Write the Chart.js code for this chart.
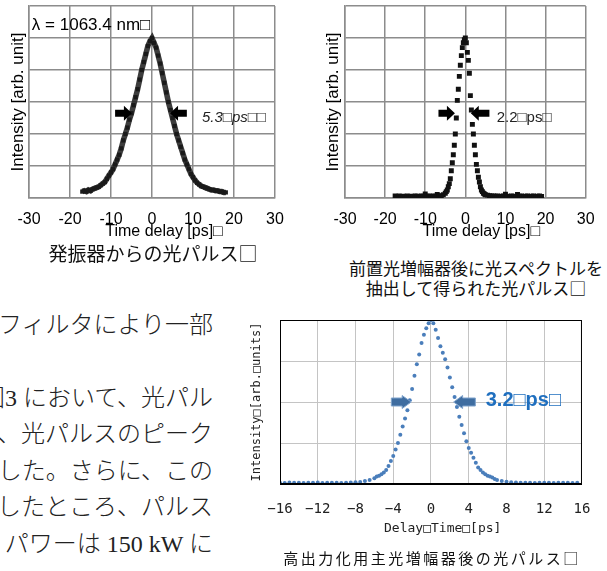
<!DOCTYPE html>
<html lang="ja">
<head>
<meta charset="utf-8">
<script src="https://cdn.jsdelivr.net/npm/chart.js@4.4.0/dist/chart.umd.min.js"></script>
<style>
  html, body { margin: 0; padding: 0; background: #fff; }
  #page { position: relative; width: 607px; height: 571px; overflow: hidden; background: #fff; }
  canvas { position: absolute; }
  .caption { position: absolute; text-align: center; font-family: 'Noto Sans CJK JP', sans-serif; color: #111; white-space: nowrap; }
  #bodyText { position: absolute; left: 0; top: 300px; width: 213px; height: 271px; overflow: hidden;
              font-family: 'Liberation Serif', 'Noto Sans CJK JP', serif; font-size: 24px; font-weight: 300; color: #222; }
  #bodyText div { position: absolute; right: 0; white-space: nowrap; line-height: 36px; }
</style>
</head>
<body>
<div id="page">
  <canvas id="graficoOscilador" width="300" height="245" style="left:0;top:0"></canvas>
  <canvas id="graficoPreAmp" width="307" height="245" style="left:300px;top:0"></canvas>
  <canvas id="graficoPrincipal" width="367" height="250" style="left:240px;top:300px"></canvas>

  <div class="caption" style="left:0;top:241px;width:306px;font-size:19px;line-height:24px">発振器からの光パルス□</div>
  <div class="caption" style="left:345px;top:258px;width:262px;font-size:17px;line-height:20px">前置光増幅器後に光スペクトルを<br>抽出して得られた光パルス□</div>
  <div class="caption" style="left:282px;top:548px;width:300px;font-size:15px;line-height:20px;letter-spacing:2.5px">高出力化用主光増幅器後の光パルス□</div>

  <div id="bodyText">
    <div style="top:7px">フィルタにより一部</div>
    <div style="top:80px">図3 において、光パル</div>
    <div style="top:116px">ス、光パルスのピーク</div>
    <div style="top:153px">増大した。さらに、この</div>
    <div style="top:189px">幅したところ、パルス</div>
    <div style="top:226px">パワーは 150 kW に</div>
  </div>
</div>

<script>
// Pulso do oscilador (time delay in ps, intensity in arb. unit)
const oscTime = [-17, -16.5, -16, -15.5, -15, -14.5, -14, -13.5, -13, -12.5, -12, -11.5, -11, -10.5, -10,
  -9.5, -9, -8.5, -8, -7.5, -7, -6.5, -6, -5.5, -5, -4.5, -4, -3.5, -3, -2.5, -2, -1.5, -1, -0.5, 0,
  0.5, 1, 1.5, 2, 2.5, 3, 3.5, 4, 4.5, 5, 5.5, 6, 6.5, 7, 7.5, 8, 8.5, 9, 9.5, 10, 10.5, 11, 11.5, 12,
  12.5, 13, 13.5, 14, 14.5, 15, 15.5, 16, 16.5, 17, 17.5, 18];
const oscIntensity = [0.04, 0.045, 0.04, 0.05, 0.045, 0.055, 0.06, 0.065, 0.07, 0.08,
  0.09, 0.10, 0.12, 0.14, 0.16, 0.18, 0.21, 0.24, 0.27, 0.31,
  0.36, 0.40, 0.44, 0.49, 0.53, 0.58, 0.63, 0.68, 0.74, 0.80,
  0.85, 0.90, 0.95, 0.98, 1.0, 0.97, 0.94, 0.89, 0.84, 0.78,
  0.72, 0.66, 0.60, 0.55, 0.50, 0.45, 0.40, 0.36, 0.32, 0.28,
  0.24, 0.21, 0.18, 0.15, 0.13, 0.11, 0.095, 0.085, 0.075, 0.07,
  0.065, 0.06, 0.055, 0.05, 0.05, 0.045, 0.045, 0.04, 0.04, 0.035, 0.035];

// Pulso depois do pré-amplificador + filtro espectral
const preTime = [-17.5, -17, -16.5, -16, -15.5, -15, -14.5, -14, -13.5, -13, -12.5, -12, -11.5, -11, -10.5,
  -10, -9.5, -9, -8.5, -8, -7.5, -7, -6.5, -6, -5.5,
  -5, -4.75, -4.5, -4.25, -4, -3.75, -3.5, -3.25, -3, -2.75, -2.5, -2.25, -2, -1.75, -1.5, -1.25, -1,
  -0.75, -0.5, -0.25, 0, 0.25, 0.5, 0.75, 1, 1.25, 1.5, 1.75, 2, 2.25, 2.5, 2.75, 3, 3.25, 3.5, 3.75,
  4, 4.25, 4.5, 4.75, 5,
  5.5, 6, 6.5, 7, 7.5, 8, 8.5, 9, 9.5, 10, 10.5, 11, 11.5, 12, 12.5, 13, 13.5, 14, 14.5, 15, 15.5, 16,
  16.5, 17, 17.5, 18, 18.5, 19];
const preIntensity = [0.012, 0.01, 0.012, 0.01, 0.011, 0.01, 0.012, 0.01, 0.011, 0.01, 0.012, 0.011, 0.01, 0.012, 0.011,
  0.025, 0.011, 0.012, 0.01, 0.012, 0.011, 0.022, 0.013, 0.015, 0.02,
  0.03, 0.04, 0.05, 0.07, 0.09, 0.12, 0.17, 0.22, 0.27, 0.33, 0.40, 0.50, 0.61, 0.68, 0.76, 0.83, 0.89,
  0.94, 0.97, 0.99, 1.0, 0.97, 0.91, 0.86, 0.78, 0.64, 0.55, 0.46, 0.40, 0.33, 0.27, 0.21, 0.17, 0.13, 0.10, 0.07,
  0.05, 0.04, 0.03, 0.025, 0.02,
  0.018, 0.015, 0.013, 0.012, 0.011, 0.012, 0.01, 0.011, 0.012, 0.024, 0.011, 0.01, 0.012, 0.011, 0.01, 0.022,
  0.011, 0.012, 0.01, 0.011, 0.012, 0.01, 0.011, 0.012, 0.01, 0.011, 0.012, 0.01];

// Pulso depois do amplificador principal
const mainTime = [-16, -15.5, -15, -14.5, -14, -13.5, -13, -12.5, -12, -11.5, -11, -10.5, -10, -9.5, -9,
  -8.5, -8, -7.5, -7, -6.5,
  -6, -5.75, -5.5, -5.25, -5, -4.75, -4.5, -4.25, -4, -3.75, -3.5, -3.25, -3, -2.75, -2.5, -2.25, -2,
  -1.75, -1.5, -1.25, -1, -0.75, -0.5, -0.25, 0, 0.25, 0.5, 0.75, 1, 1.25, 1.5, 1.75, 2, 2.25, 2.5, 2.75,
  3, 3.25, 3.5, 3.75, 4, 4.25, 4.5, 4.75, 5, 5.25, 5.5, 5.75, 6, 6.25, 6.5, 6.75, 7,
  7.5, 8, 8.5, 9, 9.5, 10, 10.5, 11, 11.5, 12, 12.5, 13, 13.5, 14, 14.5, 15, 15.5];
const mainIntensity = [0.008, 0.006, 0.009, 0.007, 0.008, 0.006, 0.008, 0.007, 0.009, 0.006, 0.008, 0.007, 0.008,
  0.006, 0.008, 0.009, 0.01, 0.012, 0.018, 0.025,
  0.035, 0.045, 0.05, 0.06, 0.07, 0.085, 0.11, 0.14, 0.17, 0.21, 0.25, 0.30, 0.35, 0.40, 0.45, 0.51, 0.58,
  0.66, 0.73, 0.79, 0.86, 0.91, 0.95, 0.98, 1.0, 0.98, 0.94, 0.89, 0.84, 0.80, 0.76, 0.71, 0.65, 0.59, 0.53, 0.47,
  0.41, 0.36, 0.31, 0.26, 0.22, 0.19, 0.16, 0.13, 0.10, 0.085, 0.07, 0.06, 0.05, 0.045, 0.04, 0.03, 0.025,
  0.018, 0.013, 0.01, 0.009, 0.008, 0.007, 0.008, 0.006, 0.008, 0.007, 0.008, 0.006, 0.008, 0.007, 0.008, 0.006, 0.007];

const mainTickLabels = ['−16', '−12', '−8', '−4', '0', '4', '8', '12', '16'];

/**
 * @description Desenha uma seta horizontal em bloco (haste + cabeça).
 */
function drawBlockArrow(ctx, xTail, xTip, yc, style) {
  const dir = Math.sign(xTip - xTail);
  const base = xTip - dir * style.head;
  ctx.beginPath();
  ctx.moveTo(xTail, yc - style.shaft / 2);
  ctx.lineTo(base, yc - style.shaft / 2);
  ctx.lineTo(base, yc - style.height / 2);
  ctx.lineTo(xTip, yc);
  ctx.lineTo(base, yc + style.height / 2);
  ctx.lineTo(base, yc + style.shaft / 2);
  ctx.lineTo(xTail, yc + style.shaft / 2);
  ctx.closePath();
  ctx.fillStyle = style.color;
  ctx.fill();
  if (style.edge) {
    ctx.strokeStyle = style.edge;
    ctx.lineWidth = 1;
    ctx.stroke();
  }
}

/**
 * @description Plugin com as anotações (setas de largura do pulso e textos) em coordenadas de dados.
 */
function annotationPlugin(cfg) {
  return {
    id: 'anotacoes',
    afterDatasetsDraw(chart) {
      const { ctx, chartArea, scales: { x, y } } = chart;
      ctx.save();
      if (cfg.frame) {
        ctx.strokeStyle = cfg.frame;
        ctx.lineWidth = 1;
        ctx.strokeRect(chartArea.left + 0.5, chartArea.top + 0.5, chartArea.width - 1, chartArea.height - 1);
      }
      (cfg.arrows || []).forEach(a => {
        drawBlockArrow(ctx, x.getPixelForValue(a.from), x.getPixelForValue(a.to), y.getPixelForValue(a.y), cfg.arrowStyle);
      });
      (cfg.labels || []).forEach(l => {
        ctx.font = l.font;
        ctx.fillStyle = l.color;
        ctx.textAlign = 'left';
        ctx.textBaseline = 'middle';
        ctx.fillText(l.text, x.getPixelForValue(l.x), y.getPixelForValue(l.y));
      });
      ctx.restore();
    }
  };
}

function toPoints(times, values) {
  return times.map((t, i) => ({ x: t, y: values[i] }));
}

const grayGrid = { color: '#8c8c8c', lineWidth: 1.5, drawTicks: false };
const sansFont = "'Liberation Sans', Arial, sans-serif";

/**
 * @description Gráfico 1: pulso do oscilador.
 */
function renderOscillator() {
  const ctx = document.getElementById('graficoOscilador').getContext('2d');
  new Chart(ctx, {
    type: 'line',
    data: {
      datasets: [{
        data: toPoints(oscTime, oscIntensity),
        borderColor: 'rgba(40, 40, 40, 0.9)',
        borderWidth: 5.5,
        pointStyle: 'rect',
        pointRadius: 3,
        pointBackgroundColor: '#1a1a1a',
        pointBorderWidth: 0,
        tension: 0
      }]
    },
    options: {
      responsive: false,
      animation: false,
      devicePixelRatio: 1,
      layout: { padding: { top: 6, right: 25, left: 0, bottom: 0 } },
      scales: {
        x: {
          type: 'linear', min: -30, max: 30,
          ticks: { stepSize: 10, padding: 12.4, color: '#000', font: { family: sansFont, size: 16 } },
          grid: grayGrid,
          border: { color: '#8c8c8c', width: 1.5 },
          // espaços à esquerda deslocam o título como no original
          title: { display: true, text: '\u2003\u2002Time delay [ps]□', color: '#000', font: { family: sansFont, size: 16 }, padding: { top: 0, bottom: 3.4 } },
          afterFit: scale => { scale.height = 47; }
        },
        y: {
          min: 0, max: 1.2,
          ticks: { stepSize: 0.2, display: false },
          grid: grayGrid,
          border: { color: '#8c8c8c', width: 1.5 },
          title: { display: true, text: 'Intensity [arb. unit]', color: '#000', font: { family: sansFont, size: 17 }, padding: { top: 7.8, bottom: 0 } },
          afterFit: scale => { scale.width = 29; }
        }
      },
      plugins: { legend: { display: false }, tooltip: { enabled: false } }
    },
    plugins: [annotationPlugin({
      arrowStyle: { head: 8, height: 15, shaft: 7, color: '#000' },
      arrows: [{ from: -9.0, to: -4.9, y: 0.53 }, { from: 8.5, to: 4.4, y: 0.53 }],
      labels: [
        { text: '5.3□ps□□', x: 12.2, y: 0.5, font: `italic 15px ${sansFont}`, color: '#222' },
        { text: 'λ = 1063.4 nm□', x: -29.3, y: 1.08, font: `17px ${sansFont}`, color: '#000' }
      ]
    })]
  });
}

/**
 * @description Gráfico 2: pulso depois do pré-amplificador com filtro espectral.
 */
function renderPreAmp() {
  const ctx = document.getElementById('graficoPreAmp').getContext('2d');
  new Chart(ctx, {
    type: 'scatter',
    data: {
      datasets: [{
        data: toPoints(preTime, preIntensity),
        pointStyle: 'rect',
        pointRadius: 3.5,
        pointBackgroundColor: '#111',
        pointBorderWidth: 0
      }]
    },
    options: {
      responsive: false,
      animation: false,
      devicePixelRatio: 1,
      layout: { padding: { top: 6, right: 17, left: 0, bottom: 0 } },
      scales: {
        x: {
          type: 'linear', min: -30, max: 30,
          ticks: { stepSize: 10, padding: 12.4, color: '#000', font: { family: sansFont, size: 16 } },
          grid: grayGrid,
          border: { color: '#8c8c8c', width: 1.5 },
          title: { display: true, text: '\u2003\u2003Time delay [ps]□', color: '#000', font: { family: sansFont, size: 16 }, padding: { top: 0, bottom: 3.4 } },
          afterFit: scale => { scale.height = 47; }
        },
        y: {
          min: 0, max: 1.2,
          ticks: { stepSize: 0.2, display: false },
          grid: grayGrid,
          border: { color: '#8c8c8c', width: 1.5 },
          title: { display: true, text: 'Intensity [arb. unit]', color: '#000', font: { family: sansFont, size: 17 }, padding: { top: 22.8, bottom: 0 } },
          afterFit: scale => { scale.width = 45; }
        }
      },
      plugins: { legend: { display: false }, tooltip: { enabled: false } }
    },
    plugins: [annotationPlugin({
      arrowStyle: { head: 8, height: 15, shaft: 7, color: '#000' },
      arrows: [{ from: -6.7, to: -2.6, y: 0.53 }, { from: 6.0, to: 1.35, y: 0.53 }],
      labels: [{ text: '2.2□ps□', x: 7.8, y: 0.5, font: `15px ${sansFont}`, color: '#222' }]
    })]
  });
}

/**
 * @description Gráfico 3: pulso depois do amplificador principal de alta potência.
 */
function renderMainAmp() {
  const ctx = document.getElementById('graficoPrincipal').getContext('2d');
  const monoFont = "'DejaVu Sans Mono', 'Liberation Mono', monospace";
  new Chart(ctx, {
    type: 'scatter',
    data: {
      datasets: [{
        data: toPoints(mainTime, mainIntensity),
        pointStyle: 'circle',
        pointRadius: 2,
        pointBackgroundColor: '#4a7ebb',
        pointBorderWidth: 0
      }]
    },
    options: {
      responsive: false,
      animation: false,
      devicePixelRatio: 1,
      layout: { padding: { top: 20, right: 23, left: 0, bottom: 0 } },
      scales: {
        x: {
          type: 'linear', min: -16, max: 16,
          ticks: {
            stepSize: 4, padding: 16.6, color: '#222', font: { family: monoFont, size: 14 },
            callback: (value, index) => mainTickLabels[index]
          },
          grid: { color: '#c4c4c4', lineWidth: 1, drawTicks: false },
          border: { color: '#000', width: 1 },
          title: { display: true, text: '   Delay□Time□[ps]', color: '#222', font: { family: monoFont, size: 13 }, padding: { top: 0, bottom: 14 } },
          afterFit: scale => { scale.height = 66; }
        },
        y: {
          min: 0, max: 1,
          ticks: { stepSize: 0.25, display: false },
          grid: { color: '#c4c4c4', lineWidth: 1, drawTicks: false },
          border: { color: '#000', width: 1 },
          title: { display: true, text: 'Intensity□[arb.□units]', color: '#222', font: { family: monoFont, size: 12 }, padding: { top: 9.8, bottom: 0 } },
          afterFit: scale => { scale.width = 40; }
        }
      },
      plugins: { legend: { display: false }, tooltip: { enabled: false } }
    },
    plugins: [annotationPlugin({
      frame: '#000',
      arrowStyle: { head: 9, height: 13, shaft: 8, color: '#3f6da0', edge: '#7fa3cc' },
      arrows: [{ from: -4.2, to: -2.1, y: 0.5 }, { from: 4.7, to: 2.4, y: 0.5 }],
      labels: [{ text: '3.2□ps□', x: 5.8, y: 0.51, font: `bold 20px ${sansFont}`, color: '#1f6fbf' }]
    })]
  });
}

renderOscillator();
renderPreAmp();
renderMainAmp();
</script>
</body>
</html>
